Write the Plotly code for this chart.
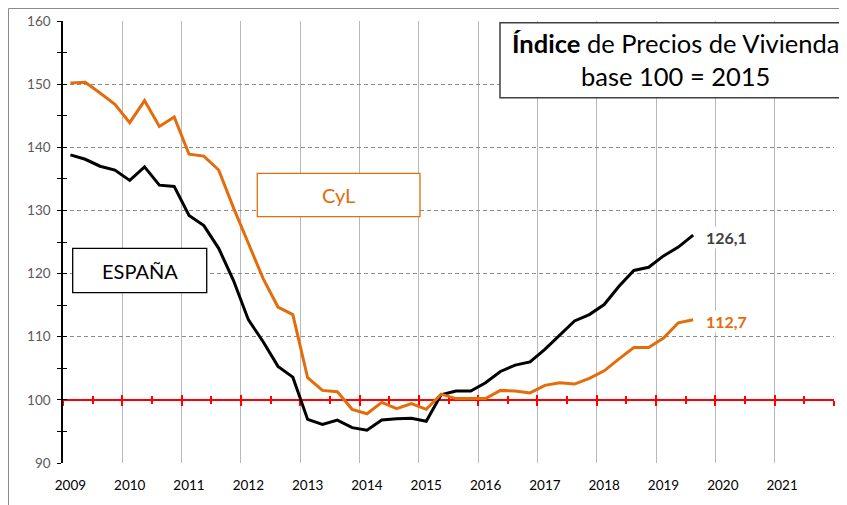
import plotly.graph_objects as go

# ---------------- data ----------------
quarters = [f"{y}-T{q}" for y in range(2009, 2020) for q in range(1, 5)][:43]
espana = [138.8, 138.1, 137.0, 136.4, 134.75, 136.9, 134.0, 133.8, 129.2, 127.6,
          124.0, 118.9, 112.7, 109.2, 105.3, 103.6, 96.9, 96.1, 96.8, 95.6,
          95.2, 96.8, 97.0, 97.1, 96.6, 100.8, 101.4, 101.4, 102.7, 104.5,
          105.5, 106.0, 108.0, 110.3, 112.5, 113.5, 115.1, 118.0, 120.5, 121.0,
          122.8, 124.2, 126.1]
cyl = [150.2, 150.3, 148.6, 146.8, 143.9, 147.4, 143.3, 144.8, 138.9, 138.6,
       136.4, 130.4, 124.8, 119.2, 114.7, 113.5, 103.5, 101.5, 101.3, 98.5,
       97.8, 99.6, 98.6, 99.4, 98.5, 100.9, 100.2, 100.2, 100.2, 101.5,
       101.4, 101.1, 102.3, 102.7, 102.5, 103.4, 104.6, 106.5, 108.3, 108.3,
       109.8, 112.2, 112.7]
year_labels = list(range(2009, 2022))
base_value = 100
y_min, y_max = 90, 160
x_min, x_max = 2009, 2022

ORANGE = "#E46C0A"
FONT = "Lato"


def qpos(label):
    y, q = label.split("-T")
    return int(y) + (int(q) - 1) / 4 + 0.125


xs = [qpos(q) for q in quarters]

fig = go.Figure()

# dummy traces to create the overlay axes (red base line / crossing ticks)
for ax in ("x2", "x3"):
    fig.add_trace(go.Scatter(x=[None], y=[None], xaxis=ax, yaxis="y",
                             showlegend=False, hoverinfo="skip"))
fig.add_trace(go.Scatter(x=[None], y=[None], xaxis="x", yaxis="y2",
                         showlegend=False, hoverinfo="skip"))

fig.add_trace(go.Scatter(x=xs, y=espana, mode="lines", name="ESPAÑA",
                         line=dict(color="#000000", width=3)))
fig.add_trace(go.Scatter(x=xs, y=cyl, mode="lines", name="CyL",
                         line=dict(color=ORANGE, width=3)))

base_pos = (base_value - y_min) / (y_max - y_min)

common_x = dict(range=[x_min, x_max], showgrid=False, zeroline=False,
                automargin=False)

fig.update_layout(
    template="none",
    width=839, height=497,
    margin=dict(l=55, r=13, t=13, b=42, autoexpand=False),
    paper_bgcolor="white", plot_bgcolor="white",
    showlegend=False,
    font=dict(family=FONT, color="#000000"),
    xaxis=dict(
        range=[x_min, x_max], zeroline=False, showline=False, automargin=False,
        tickmode="array", tickvals=[y + 0.125 for y in year_labels],
        ticktext=[str(y) for y in year_labels], ticks="",
        tickfont=dict(size=13.5, color="#000000", family=FONT),
        ticklabelstandoff=12,
        showgrid=False,
        minor=dict(tick0=x_min, dtick=1, showgrid=True, gridcolor="#b8b8b8",
                   gridwidth=1, ticks=""),
    ),
    xaxis2=dict(
        **common_x, overlaying="x", anchor="free", position=base_pos,
        showline=True, linecolor="#FF0000", linewidth=2,
        tickmode="array", tickvals=list(range(x_min, x_max + 1)),
        ticks="outside", ticklen=5, tickwidth=1.5, tickcolor="#FF0000",
        showticklabels=False, layer="below traces",
        minor=dict(tick0=x_min, dtick=0.5, ticks="outside", ticklen=3.5,
                   tickwidth=1.5, tickcolor="#FF0000"),
    ),
    xaxis3=dict(
        **common_x, overlaying="x", anchor="free", position=base_pos,
        showline=False,
        tickmode="array", tickvals=list(range(x_min, x_max + 1)),
        ticks="inside", ticklen=5, tickwidth=1.5, tickcolor="#FF0000",
        showticklabels=False, layer="below traces",
        minor=dict(tick0=x_min, dtick=0.5, ticks="inside", ticklen=3.5,
                   tickwidth=1.5, tickcolor="#FF0000"),
    ),
    yaxis=dict(
        range=[y_min, y_max], dtick=10, tick0=y_min, zeroline=False,
        automargin=False,
        showline=True, linecolor="#000000", linewidth=1.5,
        ticks="outside", ticklen=4, tickwidth=1.2, tickcolor="#000000",
        tickfont=dict(size=13.5, color="#595959", family=FONT),
        ticklabelstandoff=4,
        showgrid=True, gridcolor="#8c8c8c", gridwidth=1, griddash="4px,3px",
        minor=dict(dtick=5, ticks="outside", ticklen=4, tickwidth=1.2,
                   tickcolor="#000000", showgrid=False),
    ),
    yaxis2=dict(
        range=[y_min, y_max], dtick=10, tick0=y_min, overlaying="y",
        automargin=False,
        side="left", showgrid=False, zeroline=False, showline=False,
        ticks="inside", ticklen=4, tickwidth=1.2, tickcolor="#000000",
        showticklabels=False,
        minor=dict(dtick=5, ticks="inside", ticklen=4, tickwidth=1.2,
                   tickcolor="#000000", showgrid=False),
    ),
)

shapes = [
    # outer chart border (top and left edges of the chart frame)
    dict(type="line", xref="paper", yref="paper", x0=-0.0707, x1=1.05,
         y0=1.0283, y1=1.0283, line=dict(color="#8a8a8a", width=1),
         layer="above"),
    dict(type="line", xref="paper", yref="paper", x0=-0.0707, x1=-0.0707,
         y0=-0.12, y1=1.0283, line=dict(color="#8a8a8a", width=1),
         layer="above"),
    # title box
    dict(type="rect", xref="paper", yref="paper", x0=0.5668, x1=1.04,
         y0=0.8265, y1=0.9962, line=dict(color="#404040", width=1.5),
         fillcolor="white", layer="above"),
    # ESPAÑA box
    dict(type="rect", xref="paper", yref="paper", x0=0.01258, x1=0.1864,
         y0=0.3853, y1=0.4857, line=dict(color="#000000", width=1.3),
         fillcolor="white", layer="above"),
    # CyL box
    dict(type="rect", xref="paper", yref="paper", x0=0.252, x1=0.463,
         y0=0.5572, y1=0.6554, line=dict(color=ORANGE, width=1.3),
         fillcolor="white", layer="above"),
]
fig.update_layout(shapes=shapes)

annotations = [
    dict(xref="paper", yref="paper", x=0.7938, y=0.9118,
         text="<b>Índice</b> de Precios de Vivienda<br>base 100 = 2015",
         showarrow=False, align="center", xanchor="center", yanchor="middle",
         font=dict(size=25.5, color="#000000", family=FONT)),
    dict(xref="paper", yref="paper", x=0.0995, y=0.4355, text="ESPAÑA",
         showarrow=False, xanchor="center", yanchor="middle",
         font=dict(size=20, color="#000000", family=FONT)),
    dict(xref="paper", yref="paper", x=0.3575, y=0.6063, text="CyL",
         showarrow=False, xanchor="center", yanchor="middle",
         font=dict(size=20, color=ORANGE, family=FONT)),
    dict(x=xs[-1], y=espana[-1], xref="x", yref="y",
         text=f"<b>{espana[-1]:.1f}</b>".replace(".", ","),
         showarrow=False, xanchor="left", yanchor="middle", xshift=11,
         yshift=-2, bgcolor="white",
         font=dict(size=16, color="#404040", family=FONT)),
    dict(x=xs[-1], y=cyl[-1], xref="x", yref="y",
         text=f"<b>{cyl[-1]:.1f}</b>".replace(".", ","),
         showarrow=False, xanchor="left", yanchor="middle", xshift=11,
         yshift=-1.5, bgcolor="white",
         font=dict(size=16, color=ORANGE, family=FONT)),
]
fig.update_layout(annotations=annotations)

fig.write_html("out.html")
